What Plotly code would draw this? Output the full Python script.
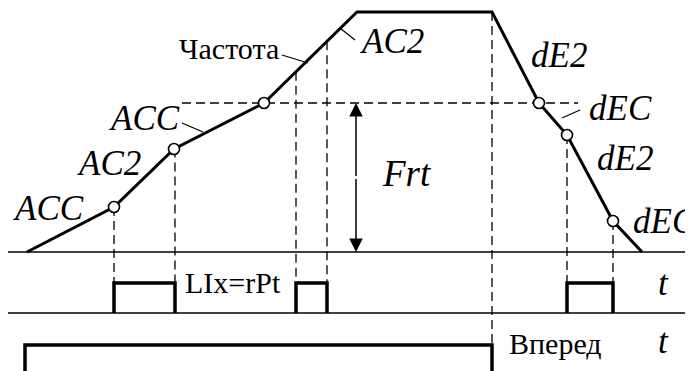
import numpy as np
import plotly.graph_objects as go

# frequency curve (time, frequency above the t-axis)
t_freq = [27, 114, 174, 264, 357, 492, 539, 567, 613, 642]
freq = [0, 45, 103, 149, 240, 240, 149, 117, 31, 0]
knot_idx = [1, 2, 3, 6, 7, 8]
frt = 149

# LIx=rPt pulses (on / off times)
pulse_on = [114, 296, 567]
pulse_off = [175, 327, 613]

# "Вперед" command
fwd_on = 25
fwd_off = 492

# row levels in the drawing
F0 = 119      # frequency t-axis
P0 = 58       # pulse row t-axis
P_H = 30      # pulse height
R_TOP = 26    # forward signal level
X_L, X_R = 8, 688

BLACK = "#000000"
SERIF = "Times New Roman, Liberation Serif, serif"

fig = go.Figure()


def line(x, y, width=1.5, dash=None):
    fig.add_trace(go.Scatter(
        x=x, y=y, mode="lines", hoverinfo="skip", showlegend=False,
        line=dict(color=BLACK, width=width, dash=dash),
    ))


# t-axes
line([X_L, X_R], [F0, F0])
line([X_L, X_R], [P0, P0])

# dashed guides
dash = "9px,5px"
line([182, 578], [F0 + frt, F0 + frt], 1.3, dash)
for x in pulse_on + pulse_off:
    fy = float(np.interp(x, t_freq, freq))
    line([x, x], [F0 + fy, P0 + P_H], 1.3, dash)
line([fwd_off, fwd_off], [F0 + max(freq), R_TOP], 1.3, dash)

# frequency curve
line(t_freq, [F0 + f for f in freq], 3)
fig.add_trace(go.Scatter(
    x=[t_freq[i] for i in knot_idx],
    y=[F0 + freq[i] for i in knot_idx],
    mode="markers", hoverinfo="skip", showlegend=False,
    marker=dict(size=11, color="white", line=dict(color=BLACK, width=1.6)),
))

# pulses
for a, b in zip(pulse_on, pulse_off):
    line([a, a, b, b], [P0, P0 + P_H, P0 + P_H, P0], 3.5)

# forward signal
line([fwd_on, fwd_on, fwd_off, fwd_off], [-10, R_TOP, R_TOP, -10], 3.5)

# leader lines
line([182, 203], [F0 + 129, F0 + 120], 1.3)
line([282, 308], [F0 + 197, F0 + 189], 1.3)
line([340, 355], [F0 + 224, F0 + 212], 1.3)
line([562, 580], [F0 + 134, F0 + 142], 1.3)

# Frt double arrow
mid = F0 + frt / 2
for yy in (F0 + frt, F0):
    fig.add_annotation(
        x=356, y=yy, ax=356, ay=mid, axref="x", ayref="y", xref="x", yref="y",
        text="", showarrow=True, arrowhead=2, arrowsize=1.8, arrowwidth=1.5,
        arrowcolor=BLACK, standoff=0, startstandoff=0,
    )

labels = [
    # text, x, y(px from top), italic, size
    ("ACC", 48, 208, True, 35),
    ("AC2", 109, 163, True, 35),
    ("ACC", 144, 118, True, 35),
    ("Частота", 229, 48, False, 30),
    ("AC2", 392, 41, True, 35),
    ("dE2", 559, 55, True, 35),
    ("dEC", 620, 108, True, 35),
    ("dE2", 625, 158, True, 35),
    ("dEC", 664, 221, True, 35),
    ("Frt", 407, 173, True, 37),
    ("LIx=rPt", 233, 282, False, 30),
    ("t", 663, 283, True, 35),
    ("Вперед", 555, 343, False, 30),
    ("t", 663, 341, True, 35),
]
for text, x, ypx, ital, size in labels:
    fig.add_annotation(
        x=x, y=371 - ypx, xref="x", yref="y", showarrow=False,
        text=f"<i>{text}</i>" if ital else text,
        font=dict(family=SERIF, size=size, color=BLACK),
        xanchor="center", yanchor="middle",
    )

# the page body has an 8px margin, so the figure starts at (8, 8)
fig.update_layout(
    width=685, height=363,
    margin=dict(l=0, r=0, t=0, b=0),
    paper_bgcolor="white", plot_bgcolor="white",
    xaxis=dict(range=[8, 693], visible=False, fixedrange=True),
    yaxis=dict(range=[0, 363], visible=False, fixedrange=True),
    showlegend=False,
)

fig.write_html("out.html")
